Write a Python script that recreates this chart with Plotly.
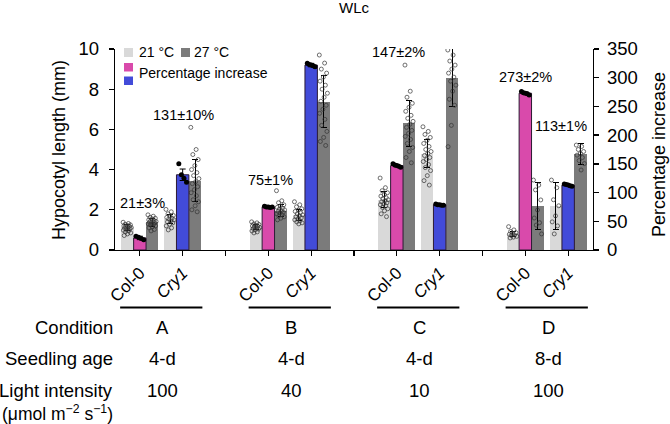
import plotly.graph_objects as go

# ---------------- data ----------------
genotypes = ["Col-0", "<i>Cry1</i>"]
conditions = ["A", "B", "C", "D"]
seedling_age = ["4-d", "4-d", "4-d", "8-d"]
light_intensity = ["100", "40", "10", "100"]

# bar order: A-Col, A-Cry1, B-Col, B-Cry1, C-Col, C-Cry1, D-Col, D-Cry1
mean_21 = [1.13, 1.53, 1.16, 1.74, 2.50, 4.78, 0.78, 2.19]
sd_21 = [0.15, 0.22, 0.12, 0.27, 0.40, 0.70, 0.12, 1.16]
mean_27 = [1.37, 3.45, 1.96, 7.38, 6.30, 8.57, 2.19, 4.78]
sd_27 = [0.18, 1.04, 0.30, 1.28, 1.16, 1.45, 1.16, 0.52]
pct_increase = [21, 131, 75, 322, 147, 79, 273, 113]
pct_sd = [3, 10, 1, 3, 2, 1, 2, 1]

pts_21 = [
    [1.38, 1.32, 1.28, 1.25, 1.22, 1.20, 1.18, 1.15, 1.12, 1.10, 1.08, 1.05, 1.02, 0.98, 0.95, 0.90, 0.85, 0.80, 0.72],
    [2.02, 1.90, 1.80, 1.72, 1.68, 1.62, 1.58, 1.55, 1.50, 1.45, 1.40, 1.35, 1.28, 1.20, 1.10, 1.00],
    [1.40, 1.35, 1.30, 1.27, 1.24, 1.20, 1.18, 1.15, 1.12, 1.10, 1.07, 1.04, 1.00, 0.95, 0.90, 0.85],
    [2.40, 2.25, 2.15, 2.05, 1.98, 1.92, 1.86, 1.80, 1.75, 1.70, 1.65, 1.60, 1.55, 1.50, 1.45, 1.40, 1.35, 1.30],
    [3.58, 3.10, 2.95, 2.85, 2.75, 2.68, 2.60, 2.55, 2.50, 2.45, 2.40, 2.35, 2.30, 2.25, 2.20, 2.12, 2.05, 1.95, 1.80, 1.66],
    [6.13, 5.90, 5.75, 5.60, 5.45, 5.30, 5.15, 5.00, 4.90, 4.80, 4.70, 4.60, 4.50, 4.40, 4.25, 4.10, 3.95, 3.70, 3.45, 3.23],
    [1.16, 1.00, 0.92, 0.86, 0.82, 0.78, 0.75, 0.72, 0.68, 0.64, 0.60],
    [3.48, 3.10, 2.50, 2.20, 1.70, 1.40, 1.20, 0.80],
]
pts_27 = [
    [1.75, 1.68, 1.62, 1.58, 1.55, 1.50, 1.47, 1.45, 1.42, 1.40, 1.38, 1.35, 1.32, 1.30, 1.28, 1.25, 1.20, 1.15, 1.10, 1.02, 0.95],
    [6.10, 5.00, 4.75, 4.50, 4.20, 4.00, 3.85, 3.70, 3.55, 3.40, 3.30, 3.15, 3.00, 2.85, 2.70, 2.50, 2.40, 2.20, 2.00, 1.90],
    [2.95, 2.45, 2.35, 2.25, 2.18, 2.12, 2.08, 2.03, 2.00, 1.96, 1.92, 1.88, 1.84, 1.80, 1.75, 1.70, 1.65, 1.58, 1.50],
    [9.70, 9.30, 9.00, 8.80, 8.60, 8.40, 8.20, 8.00, 7.80, 7.60, 7.40, 7.20, 7.00, 6.80, 6.50, 6.20, 5.90, 5.60, 5.40, 5.20],
    [9.20, 7.90, 7.60, 7.30, 7.10, 6.90, 6.70, 6.55, 6.40, 6.25, 6.10, 5.95, 5.80, 5.65, 5.50, 5.30, 5.10, 4.90, 4.60, 4.34],
    [9.95, 9.70, 9.40, 9.20, 9.00, 8.80, 8.60, 8.40, 8.20, 7.90, 7.50, 7.20, 6.20, 5.14],
    [3.48, 3.23, 2.99, 2.49, 1.99, 1.59, 1.36, 1.24, 0.80],
    [5.22, 5.15, 5.00, 4.90, 4.80, 4.72, 4.60, 4.45, 4.30, 3.98],
]
pct_pts = [
    [24, 22, 20, 18],
    [150, 131, 125, 118],
    [76, 75, 75, 74, 75],
    [325, 323, 322, 321, 319],
    [150, 148, 147, 146, 144],
    [80, 79, 79, 78, 78],
    [276, 274, 273, 272, 270],
    [115, 114, 113, 112, 111],
]

# ---------------- layout helpers (positions / styles) ----------------
FONT = "Liberation Sans, Arial, Helvetica, sans-serif"
C21 = "#d9d9d9"
C27 = "#7b7b7b"
PINK = "#d94aab"
BLUE = "#424bd9"
W = 0.29
pos = [g * 3 + j for g in range(len(conditions)) for j in range(len(genotypes))]
seps = [g * 3 + 2 for g in range(len(conditions) - 1)]
pct_colors = [PINK if j == 0 else BLUE for g in range(len(conditions)) for j in range(len(genotypes))]
label_dx = [0.06, 0.03, 0.06, 0.04, 0.05, 0.07, 0.0, -0.16]
label_y = [2.32, 6.72, 3.48, 10.28, 9.87, 10.7, 8.62, 6.18]


def jitter(n, amp=0.1):
    return [(((k * 0.6180339887) % 1.0) - 0.5) * 2 * amp for k in range(n)]


fig = go.Figure()
err = dict(type="data", color="black", thickness=1, width=3)

fig.add_trace(go.Bar(
    x=[p - W for p in pos], y=mean_21, width=W, marker=dict(color=C21, line=dict(width=0)),
    error_y=dict(array=sd_21, **err), showlegend=False, yaxis="y", hoverinfo="skip"))
fig.add_trace(go.Bar(
    x=[p + W for p in pos], y=mean_27, width=W, marker=dict(color=C27, line=dict(width=0)),
    error_y=dict(array=sd_27, **err), showlegend=False, yaxis="y", hoverinfo="skip"))

# individual points on grey bars
sx, sy = [], []
for i, p in enumerate(pos):
    for off, v in zip(jitter(len(pts_21[i])), pts_21[i]):
        sx.append(p - W + off)
        sy.append(v)
    for off, v in zip(jitter(len(pts_27[i])), pts_27[i]):
        sx.append(p + W + off)
        sy.append(v)
fig.add_trace(go.Scatter(
    x=sx, y=sy, mode="markers", showlegend=False, yaxis="y", hoverinfo="skip",
    marker=dict(symbol="circle-open", size=4, color="#333333", line=dict(width=0.7))))

# percentage bars (right axis)
fig.add_trace(go.Bar(
    x=pos, y=pct_increase, width=W, yaxis="y2", showlegend=False, hoverinfo="skip",
    marker=dict(color=pct_colors, line=dict(color="#2b1a33", width=1)),
    error_y=dict(array=pct_sd, **err)))
px_, py_ = [], []
for i, p in enumerate(pos):
    n = len(pct_pts[i])
    for k, v in enumerate(pct_pts[i]):
        px_.append(p - 0.09 + 0.18 * k / (n - 1))
        py_.append(v)
fig.add_trace(go.Scatter(
    x=px_, y=py_, mode="markers", yaxis="y2", showlegend=False, hoverinfo="skip",
    marker=dict(symbol="circle", size=5, color="black")))

ann = []
for i, p in enumerate(pos):
    ann.append(dict(x=p + label_dx[i], y=label_y[i], xref="x", yref="y",
                    xanchor="center", yanchor="middle",
                    text=f"{pct_increase[i]}±{pct_sd[i]}%", showarrow=False,
                    font=dict(size=14.5, color="black", family=FONT)))


def px2x(p):
    return (p - 115) / 478.0


def py2y(p):
    return (250 - p) / 201.0


# axis titles, main title
ann.append(dict(x=px2x(59), y=py2y(150), xref="paper", yref="paper", text="Hypocotyl length (mm)",
                xanchor="center", yanchor="middle",
                textangle=-90, showarrow=False, font=dict(size=18, color="black", family=FONT)))
ann.append(dict(x=px2x(659), y=py2y(155), xref="paper", yref="paper", text="Percentage increase",
                xanchor="center", yanchor="middle",
                textangle=-90, showarrow=False, font=dict(size=18, color="black", family=FONT)))
ann.append(dict(x=0.5, y=py2y(8), xref="paper", yref="paper", text="WLc",
                xanchor="center", yanchor="middle",
                showarrow=False, font=dict(size=15, color="black", family=FONT)))

# legend
shapes = []
leg_boxes = [(124, 133, 48, 57, C21), (181, 190, 48, 57, C27), (124, 133, 63, 71.5, PINK), (124, 133, 76.5, 85, BLUE)]
for x0, x1, y0, y1, col in leg_boxes:
    shapes.append(dict(type="rect", xref="paper", yref="paper", x0=px2x(x0), x1=px2x(x1),
                       y0=py2y(y1), y1=py2y(y0), fillcolor=col, line=dict(width=0)))
for tx, ty, t in [(137, 52.5, "21 °C"), (192, 52.5, "27 °C"), (137, 73.5, "Percentage increase")]:
    ann.append(dict(x=px2x(tx), y=py2y(ty), xref="paper", yref="paper", text=t,
                    xanchor="left", yanchor="middle",
                    showarrow=False, font=dict(size=14, color="black", family=FONT)))

# table under the axis
row_y = [py2y(327), py2y(358.5), py2y(390), py2y(413)]
row_labels = ["Condition", "Seedling age", "Light intensity", "(μmol m<sup>−2</sup> s<sup>−1</sup>)"]
row_size = [18.5, 18.5, 18.5, 17.5]
for ry, rl, rs in zip(row_y, row_labels, row_size):
    ann.append(dict(x=0.0, y=ry, xref="paper", yref="paper", text=rl, xanchor="right", yanchor="middle",
                    showarrow=False, font=dict(size=rs, color="black", family=FONT)))
for g in range(len(conditions)):
    cx = g * 3 + 0.5
    for ry, t in zip(row_y[:3], [conditions[g], seedling_age[g], light_intensity[g]]):
        ann.append(dict(x=cx + 0.04, y=ry, xref="x", yref="paper", text=t, showarrow=False,
                        xanchor="center", yanchor="middle",
                        font=dict(size=18.5, color="black", family=FONT)))
    shapes.append(dict(type="line", xref="x", yref="paper", x0=cx - 0.96, x1=cx + 0.96,
                       y0=py2y(307.5), y1=py2y(307.5), line=dict(color="black", width=2)))

ticktext = [genotypes[j] for g in range(len(conditions)) for j in range(len(genotypes))]

axis_common = dict(showgrid=False, zeroline=False, showline=True, linecolor="black", linewidth=1.3,
                   ticks="outside", ticklen=5, tickwidth=1.3, tickcolor="black", automargin=False)
yfont = dict(size=18.5, color="black", family=FONT)

fig.update_layout(
    width=670, height=424,
    margin=dict(l=115, r=77, t=49, b=174, pad=0),
    paper_bgcolor="white", plot_bgcolor="white",
    barmode="overlay", bargap=0,
    font=dict(family=FONT, color="black"),
    hovermode=False,
    xaxis=dict(range=[-0.58, 10.58], tickvals=pos, ticktext=ticktext, tickangle=-45,
               tickfont=dict(size=17, color="black", family=FONT),
               minor=dict(tickvals=seps, ticks="outside", ticklen=5, tickwidth=1.3, tickcolor="black",
                          showgrid=False),
               **axis_common),
    yaxis=dict(range=[0, 10], tickvals=[0, 2, 4, 6, 8, 10], tickfont=yfont, ticklabelstandoff=6,
               **axis_common),
    yaxis2=dict(range=[0, 350], tickvals=[0, 50, 100, 150, 200, 250, 300, 350], overlaying="y",
                side="right", tickfont=yfont, ticklabelstandoff=4, **axis_common),
    annotations=ann, shapes=shapes,
)

fig.write_html("out.html", config={"displayModeBar": False, "staticPlot": True},
               post_script="document.body.style.margin='0';document.body.style.overflow='hidden';")
